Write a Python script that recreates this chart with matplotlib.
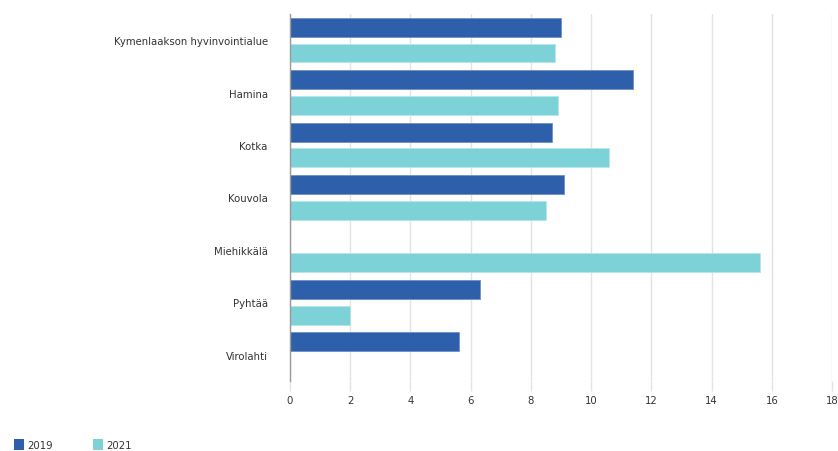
import matplotlib
matplotlib.use("Agg")
import matplotlib.pyplot as plt
from matplotlib.patches import Patch
import numpy as np

categories = ["Kymenlaakson hyvinvointialue", "Hamina", "Kotka", "Kouvola",
              "Miehikkälä", "Pyhtää", "Virolahti"]
values_2019 = [9.0, 11.4, 8.7, 9.1, np.nan, 6.3, 5.6]
values_2021 = [8.8, 8.9, 10.6, 8.5, 15.6, 2.0, np.nan]
series_names = ["2019", "2021"]
x_ticks = [0, 2, 4, 6, 8, 10, 12, 14, 16, 18]

color_2019 = "#2e5fab"
color_2021 = "#7dd2d8"
text_color = "#333333"
grid_color = "#e3e3e6"

plt.rcParams["font.family"] = ["DejaVu Sans"]
fs = 7.25

fig = plt.figure(figsize=(8.38, 4.52), dpi=100)
ax = fig.add_axes([0.346, 0.155, 0.647, 0.812])

y = np.arange(len(categories))
h = 0.36
off = 0.245
ax.barh(y - off, values_2019, height=h, color=color_2019,
        edgecolor="#6f8fc6", linewidth=0.6, zorder=3)
ax.barh(y + off, values_2021, height=h, color=color_2021,
        edgecolor="#b3e6ea", linewidth=0.6, zorder=3)

ax.set_ylim(len(categories) - 0.5, -0.5)
ax.set_xlim(0, 18)
ax.set_yticks(y)
ax.set_yticklabels(categories, fontsize=fs, color=text_color)
ax.set_xticks(x_ticks)
ax.set_xticklabels([str(t) for t in x_ticks], fontsize=fs, color=text_color)

ax.grid(axis="x", color=grid_color, linewidth=1.0, zorder=0)
ax.tick_params(axis="y", length=0, pad=16)
ax.tick_params(axis="x", length=7, width=1.0, color=grid_color, pad=3)
for s in ["top", "right", "bottom"]:
    ax.spines[s].set_visible(False)
ax.spines["left"].set_color("#9a9a9a")
ax.spines["left"].set_linewidth(1.0)
ax.spines["left"].set_zorder(4)

handles = [Patch(facecolor=color_2019, edgecolor="none"),
           Patch(facecolor=color_2021, edgecolor="none")]
fig.legend(handles, series_names, loc="lower left", bbox_to_anchor=(0.006, -0.018),
           ncol=2, frameon=False, fontsize=fs, handlelength=1.0, handleheight=1.25,
           handletextpad=0.3, columnspacing=4.0, labelcolor=text_color)

fig.savefig("out.png", dpi=100, facecolor="white")
